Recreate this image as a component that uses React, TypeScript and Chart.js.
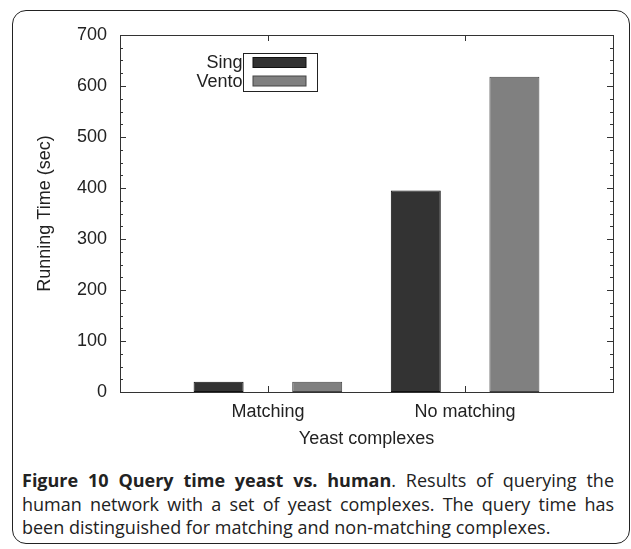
import React, { useEffect, useRef } from 'react';
import { Chart, registerables } from 'chart.js';

Chart.register(...registerables);

// ---- data ----
const categories = ['Matching', 'No matching'];
const seriesNames = ['Sing', 'Vento'];
const singValues = [20, 395];
const ventoValues = [20, 618];
const yMin = 0;
const yMax = 700;
const yStep = 100;
const yMinorStep = 25;
const xTitle = 'Yeast complexes';
const yTitle = 'Running Time (sec)';

// padded category axis: blank slots around the real categories
const paddedLabels: string[] = [''];
categories.forEach((c) => { paddedLabels.push(c); paddedLabels.push(''); });
const pad = (vals: number[]) => {
  const out: (number | null)[] = [null];
  vals.forEach((v) => { out.push(v); out.push(null); });
  return out;
};

const FONT = '"Liberation Sans", Arial, sans-serif';
const INK = '#222222';

const framePlugin = {
  id: 'gnuFrame',
  afterDraw(chart: any) {
    const { ctx, chartArea: a, scales } = chart;
    const y = scales.y;
    const x = scales.x;
    ctx.save();
    ctx.strokeStyle = '#333333';
    ctx.lineWidth = 1;
    ctx.strokeRect(Math.round(a.left) + 0.5, Math.round(a.top) + 0.5, Math.round(a.right - a.left), Math.round(a.bottom - a.top));
    ctx.beginPath();
    for (let v = yMin; v <= yMax; v += yMinorStep) {
      const py = Math.round(y.getPixelForValue(v)) + 0.5;
      const len = v % yStep === 0 ? 6 : 3;
      ctx.moveTo(a.left, py); ctx.lineTo(a.left + len, py);
      ctx.moveTo(a.right, py); ctx.lineTo(a.right - len, py);
    }
    paddedLabels.forEach((lab, i) => {
      if (!lab) return;
      const px = Math.round(x.getPixelForValue(i)) + 0.5;
      ctx.moveTo(px, a.bottom); ctx.lineTo(px, a.bottom - 6);
      ctx.moveTo(px, a.top); ctx.lineTo(px, a.top + 6);
    });
    ctx.stroke();
    ctx.restore();
  },
};

const legendPlugin = {
  id: 'gnuLegend',
  afterDraw(chart: any) {
    const { ctx, chartArea: a } = chart;
    const bx = a.left + 123.5;
    const by = a.top + 18.5;
    const bw = 74;
    const bh = 38;
    ctx.save();
    ctx.strokeStyle = '#222222';
    ctx.lineWidth = 1;
    ctx.strokeRect(bx, by, bw, bh);
    ctx.font = `18px ${FONT}`;
    ctx.textAlign = 'right';
    ctx.textBaseline = 'middle';
    chart.data.datasets.forEach((ds: any, i: number) => {
      const cy = by + 9 + i * 18.5;
      ctx.fillStyle = INK;
      ctx.fillText(ds.label, bx - 1, cy + 1);
      ctx.fillStyle = ds.backgroundColor;
      ctx.fillRect(bx + 9.5, cy - 5, 53, 10);
      ctx.strokeStyle = ds.borderColor;
      ctx.strokeRect(bx + 9.5, cy - 5, 53, 10);
    });
    ctx.restore();
  },
};

export default function App() {
  const ref = useRef<HTMLCanvasElement | null>(null);

  useEffect(() => {
    if (!ref.current) return;
    const chart = new Chart(ref.current, {
      type: 'bar',
      data: {
        labels: paddedLabels,
        datasets: [
          {
            label: seriesNames[0],
            data: pad(singValues),
            backgroundColor: '#333333',
            borderColor: '#111111',
            borderWidth: 1,
            borderSkipped: false,
            categoryPercentage: 2,
            barPercentage: 0.507,
          },
          {
            label: seriesNames[1],
            data: pad(ventoValues),
            backgroundColor: '#808080',
            borderColor: '#444444',
            borderWidth: 1,
            borderSkipped: false,
            categoryPercentage: 2,
            barPercentage: 0.507,
          },
        ],
      },
      options: {
        animation: false,
        responsive: false,
        maintainAspectRatio: false,
        devicePixelRatio: 1,
        layout: { padding: { left: 0, right: 18, top: 35, bottom: 0 } },
        plugins: {
          legend: { display: false },
          tooltip: { enabled: false },
        },
        scales: {
          x: {
            type: 'category',
            offset: true,
            grid: { display: false, drawTicks: false },
            border: { display: false },
            ticks: { color: INK, font: { family: FONT, size: 18 }, padding: 9, autoSkip: false, maxRotation: 0 },
            title: { display: true, text: xTitle, color: INK, font: { family: FONT, size: 18 }, padding: { top: 0, bottom: 2 } },
            afterFit: (s: any) => { s.height = 60; },
          },
          y: {
            min: yMin,
            max: yMax,
            grid: { display: false, drawTicks: false },
            border: { display: false },
            ticks: { stepSize: yStep, color: INK, font: { family: FONT, size: 18 }, padding: 13 },
            title: { display: true, text: yTitle, color: INK, font: { family: FONT, size: 18 }, padding: { top: 34, bottom: 0 } },
            afterFit: (s: any) => { s.width = 120; },
          },
        },
      },
      plugins: [framePlugin, legendPlugin],
    });
    return () => chart.destroy();
  }, []);

  return (
    <div style={{ position: 'absolute', left: 0, top: 0, width: 631, height: 549, background: '#fff', overflow: 'hidden' }}>
      <div
        style={{
          position: 'absolute', left: 12, top: 10, width: 618, height: 534,
          border: '1.5px solid #222', borderRadius: 14, boxSizing: 'border-box',
        }}
      />
      <canvas ref={ref} width={631} height={452} style={{ position: 'absolute', left: 0, top: 0, width: 631, height: 452 }} />
      <div
        style={{
          position: 'absolute', left: 22, top: 469, width: 592,
          fontFamily: '"Open Sans", sans-serif', fontSize: 18, lineHeight: '23.5px',
          textAlign: 'justify', color: '#222',
        }}
      >
        <b>Figure 10 Query time yeast vs. human</b>. Results of querying the human network with a set of yeast complexes. The query time has been distinguished for matching and non-matching complexes.
      </div>
    </div>
  );
}
